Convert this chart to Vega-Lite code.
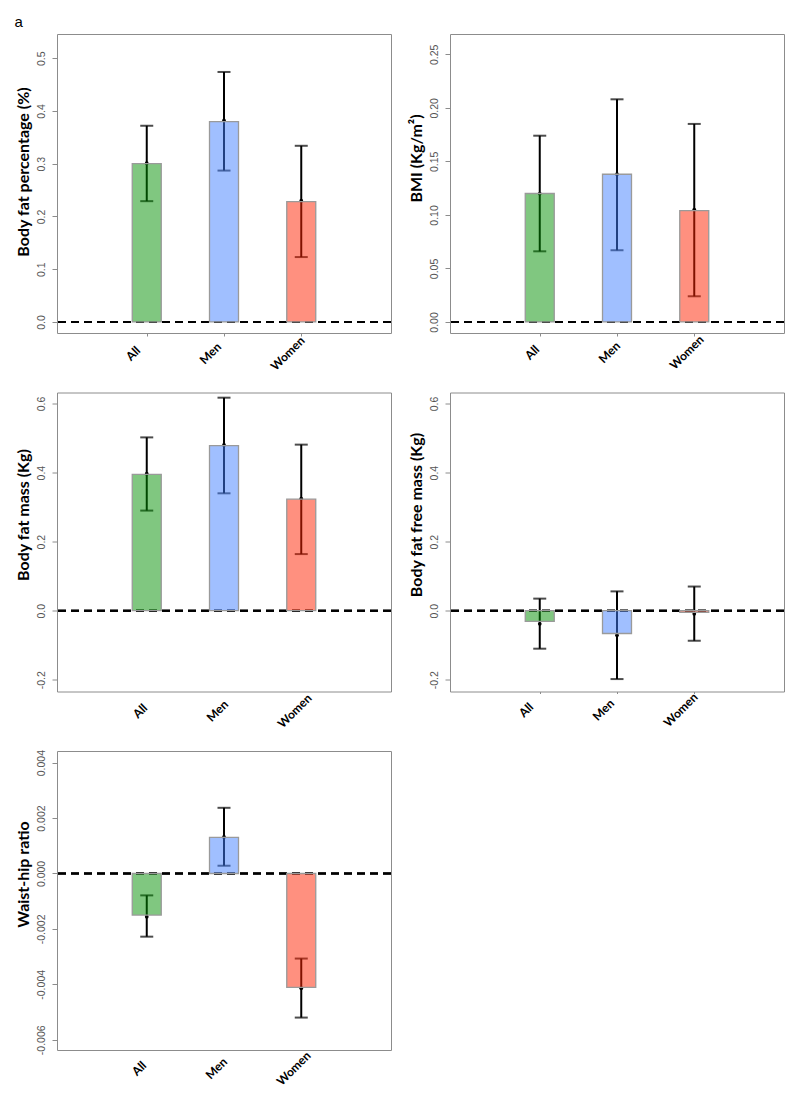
{
  "$schema": "https://vega.github.io/schema/vega-lite/v6.json",
  "padding": {"left": 14, "top": 14, "right": 10, "bottom": 5},
  "title": {"text": "a", "anchor": "start", "frame": "bounds", "font": "Liberation Sans", "fontSize": 15, "fontWeight": "normal", "color": "black", "offset": 4},
  "data": {"values": [
    {"measure": "bfp", "group": "All", "bar": 0.300, "point": 0.301, "lo": 0.229, "hi": 0.372},
    {"measure": "bfp", "group": "Men", "bar": 0.380, "point": 0.382, "lo": 0.287, "hi": 0.474},
    {"measure": "bfp", "group": "Women", "bar": 0.228, "point": 0.230, "lo": 0.123, "hi": 0.334},
    {"measure": "bmi", "group": "All", "bar": 0.120, "point": 0.120, "lo": 0.066, "hi": 0.174},
    {"measure": "bmi", "group": "Men", "bar": 0.138, "point": 0.138, "lo": 0.067, "hi": 0.208},
    {"measure": "bmi", "group": "Women", "bar": 0.104, "point": 0.105, "lo": 0.024, "hi": 0.185},
    {"measure": "bfm", "group": "All", "bar": 0.395, "point": 0.397, "lo": 0.290, "hi": 0.502},
    {"measure": "bfm", "group": "Men", "bar": 0.478, "point": 0.480, "lo": 0.340, "hi": 0.617},
    {"measure": "bfm", "group": "Women", "bar": 0.323, "point": 0.325, "lo": 0.164, "hi": 0.481},
    {"measure": "ffm", "group": "All", "bar": -0.031, "point": -0.038, "lo": -0.110, "hi": 0.035},
    {"measure": "ffm", "group": "Men", "bar": -0.066, "point": -0.071, "lo": -0.198, "hi": 0.056},
    {"measure": "ffm", "group": "Women", "bar": -0.005, "point": -0.009, "lo": -0.087, "hi": 0.070},
    {"measure": "whr", "group": "All", "bar": -0.00150, "point": -0.00156, "lo": -0.00228, "hi": -0.00079},
    {"measure": "whr", "group": "Men", "bar": 0.00130, "point": 0.00132, "lo": 0.00028, "hi": 0.00237},
    {"measure": "whr", "group": "Women", "bar": -0.00411, "point": -0.00414, "lo": -0.00520, "hi": -0.00307}
  ]},
  "columns": 2,
  "spacing": {"row": 59.5, "column": 59},
  "bounds": "flush",
  "concat": [
    {
      "width": 334, "height": 299,
      "transform": [{"filter": "datum.measure === 'bfp'"}],
      "layer": [
        {"mark": {"type": "rule", "strokeDash": [8, 5], "strokeWidth": 2, "color": "black"},
         "encoding": {"y": {"datum": 0, "type": "quantitative", "scale": {"domain": [-0.021, 0.546], "nice": false, "zero": false},
           "axis": {"title": "Body fat percentage (%)", "values": [0, 0.1, 0.2, 0.3, 0.4, 0.5], "format": ".1f", "titleY": 137.5}}}},
        {"mark": {"type": "rule", "strokeWidth": 2, "color": "black"},
         "encoding": {"x": {"field": "group", "type": "nominal", "scale": {"type": "point", "domain": ["All", "Men", "Women"], "padding": 1, "range": [12.5, 321.5]}, "axis": {"title": null, "labelOffset": -14, "labelPadding": 17}},
           "y": {"field": "lo", "type": "quantitative", "scale": {"domain": [-0.021, 0.546], "nice": false, "zero": false}}, "y2": {"field": "hi"}}},
        {"mark": {"type": "tick", "size": 13, "thickness": 2, "color": "black", "orient": "horizontal"},
         "encoding": {"x": {"field": "group", "type": "nominal", "scale": {"type": "point", "domain": ["All", "Men", "Women"], "padding": 1, "range": [12.5, 321.5]}},
           "y": {"field": "lo", "type": "quantitative", "scale": {"domain": [-0.021, 0.546], "nice": false, "zero": false}}}},
        {"mark": {"type": "tick", "size": 13, "thickness": 2, "color": "black", "orient": "horizontal"},
         "encoding": {"x": {"field": "group", "type": "nominal", "scale": {"type": "point", "domain": ["All", "Men", "Women"], "padding": 1, "range": [12.5, 321.5]}},
           "y": {"field": "hi", "type": "quantitative", "scale": {"domain": [-0.021, 0.546], "nice": false, "zero": false}}}},
        {"mark": {"type": "circle", "size": 14, "color": "black", "opacity": 1},
         "encoding": {"x": {"field": "group", "type": "nominal", "scale": {"type": "point", "domain": ["All", "Men", "Women"], "padding": 1, "range": [12.5, 321.5]}},
           "y": {"field": "point", "type": "quantitative", "scale": {"domain": [-0.021, 0.546], "nice": false, "zero": false}}}},
        {"mark": {"type": "bar", "width": 29, "fillOpacity": 0.5, "stroke": "#9a9a9a", "strokeWidth": 1.3},
         "encoding": {"x": {"field": "group", "type": "nominal", "scale": {"type": "point", "domain": ["All", "Men", "Women"], "padding": 1, "range": [12.5, 321.5]}},
           "y": {"field": "bar", "type": "quantitative", "scale": {"domain": [-0.021, 0.546], "nice": false, "zero": false}},
           "color": {"field": "group", "type": "nominal", "scale": {"domain": ["All", "Men", "Women"], "range": ["#018F01", "#417FFF", "#FF2100"]}, "legend": null}}}
      ]
    },
    {
      "width": 334, "height": 299,
      "transform": [{"filter": "datum.measure === 'bmi'"}],
      "layer": [
        {"mark": {"type": "rule", "strokeDash": [8, 5], "strokeWidth": 2, "color": "black"},
         "encoding": {"y": {"datum": 0, "type": "quantitative", "scale": {"domain": [-0.0103, 0.269], "nice": false, "zero": false},
           "axis": {"title": "BMI (Kg/m²)", "values": [0, 0.05, 0.1, 0.15, 0.2, 0.25], "format": ".2f", "titleY": 124}}}},
        {"mark": {"type": "rule", "strokeWidth": 2, "color": "black"},
         "encoding": {"x": {"field": "group", "type": "nominal", "scale": {"type": "point", "domain": ["All", "Men", "Women"], "padding": 1, "range": [12.5, 321.5]}, "axis": {"title": null, "labelOffset": -8, "labelPadding": 16}},
           "y": {"field": "lo", "type": "quantitative", "scale": {"domain": [-0.0103, 0.269], "nice": false, "zero": false}}, "y2": {"field": "hi"}}},
        {"mark": {"type": "tick", "size": 13, "thickness": 2, "color": "black", "orient": "horizontal"},
         "encoding": {"x": {"field": "group", "type": "nominal", "scale": {"type": "point", "domain": ["All", "Men", "Women"], "padding": 1, "range": [12.5, 321.5]}},
           "y": {"field": "lo", "type": "quantitative", "scale": {"domain": [-0.0103, 0.269], "nice": false, "zero": false}}}},
        {"mark": {"type": "tick", "size": 13, "thickness": 2, "color": "black", "orient": "horizontal"},
         "encoding": {"x": {"field": "group", "type": "nominal", "scale": {"type": "point", "domain": ["All", "Men", "Women"], "padding": 1, "range": [12.5, 321.5]}},
           "y": {"field": "hi", "type": "quantitative", "scale": {"domain": [-0.0103, 0.269], "nice": false, "zero": false}}}},
        {"mark": {"type": "circle", "size": 14, "color": "black", "opacity": 1},
         "encoding": {"x": {"field": "group", "type": "nominal", "scale": {"type": "point", "domain": ["All", "Men", "Women"], "padding": 1, "range": [12.5, 321.5]}},
           "y": {"field": "point", "type": "quantitative", "scale": {"domain": [-0.0103, 0.269], "nice": false, "zero": false}}}},
        {"mark": {"type": "bar", "width": 29, "fillOpacity": 0.5, "stroke": "#9a9a9a", "strokeWidth": 1.3},
         "encoding": {"x": {"field": "group", "type": "nominal", "scale": {"type": "point", "domain": ["All", "Men", "Women"], "padding": 1, "range": [12.5, 321.5]}},
           "y": {"field": "bar", "type": "quantitative", "scale": {"domain": [-0.0103, 0.269], "nice": false, "zero": false}},
           "color": {"field": "group", "type": "nominal", "scale": {"domain": ["All", "Men", "Women"], "range": ["#018F01", "#417FFF", "#FF2100"]}, "legend": null}}}
      ]
    },
    {
      "width": 334, "height": 299,
      "transform": [{"filter": "datum.measure === 'bfm'"}],
      "layer": [
        {"mark": {"type": "rule", "strokeDash": [8, 5], "strokeWidth": 2, "color": "black"},
         "encoding": {"y": {"datum": 0, "type": "quantitative", "scale": {"domain": [-0.234, 0.632], "nice": false, "zero": false},
           "axis": {"title": "Body fat mass (Kg)", "values": [-0.2, 0, 0.2, 0.4, 0.6], "format": ".1f", "titleY": 122}}}},
        {"mark": {"type": "rule", "strokeWidth": 2, "color": "black"},
         "encoding": {"x": {"field": "group", "type": "nominal", "scale": {"type": "point", "domain": ["All", "Men", "Women"], "padding": 1, "range": [12.5, 321.5]}, "axis": {"title": null, "ticks": false, "labelOffset": -7, "labelPadding": 19}},
           "y": {"field": "lo", "type": "quantitative", "scale": {"domain": [-0.234, 0.632], "nice": false, "zero": false}}, "y2": {"field": "hi"}}},
        {"mark": {"type": "tick", "size": 13, "thickness": 2, "color": "black", "orient": "horizontal"},
         "encoding": {"x": {"field": "group", "type": "nominal", "scale": {"type": "point", "domain": ["All", "Men", "Women"], "padding": 1, "range": [12.5, 321.5]}},
           "y": {"field": "lo", "type": "quantitative", "scale": {"domain": [-0.234, 0.632], "nice": false, "zero": false}}}},
        {"mark": {"type": "tick", "size": 13, "thickness": 2, "color": "black", "orient": "horizontal"},
         "encoding": {"x": {"field": "group", "type": "nominal", "scale": {"type": "point", "domain": ["All", "Men", "Women"], "padding": 1, "range": [12.5, 321.5]}},
           "y": {"field": "hi", "type": "quantitative", "scale": {"domain": [-0.234, 0.632], "nice": false, "zero": false}}}},
        {"mark": {"type": "circle", "size": 14, "color": "black", "opacity": 1},
         "encoding": {"x": {"field": "group", "type": "nominal", "scale": {"type": "point", "domain": ["All", "Men", "Women"], "padding": 1, "range": [12.5, 321.5]}},
           "y": {"field": "point", "type": "quantitative", "scale": {"domain": [-0.234, 0.632], "nice": false, "zero": false}}}},
        {"mark": {"type": "bar", "width": 29, "fillOpacity": 0.5, "stroke": "#9a9a9a", "strokeWidth": 1.3},
         "encoding": {"x": {"field": "group", "type": "nominal", "scale": {"type": "point", "domain": ["All", "Men", "Women"], "padding": 1, "range": [12.5, 321.5]}},
           "y": {"field": "bar", "type": "quantitative", "scale": {"domain": [-0.234, 0.632], "nice": false, "zero": false}},
           "color": {"field": "group", "type": "nominal", "scale": {"domain": ["All", "Men", "Women"], "range": ["#018F01", "#417FFF", "#FF2100"]}, "legend": null}}}
      ]
    },
    {
      "width": 334, "height": 299,
      "transform": [{"filter": "datum.measure === 'ffm'"}],
      "layer": [
        {"mark": {"type": "rule", "strokeDash": [8, 5], "strokeWidth": 2, "color": "black"},
         "encoding": {"y": {"datum": 0, "type": "quantitative", "scale": {"domain": [-0.234, 0.632], "nice": false, "zero": false},
           "axis": {"title": "Body fat free mass (Kg)", "values": [-0.2, 0, 0.2, 0.4, 0.6], "format": ".1f", "titleY": 122}}}},
        {"mark": {"type": "rule", "strokeWidth": 2, "color": "black"},
         "encoding": {"x": {"field": "group", "type": "nominal", "scale": {"type": "point", "domain": ["All", "Men", "Women"], "padding": 1, "range": [12.5, 321.5]}, "axis": {"title": null, "tickSize": 2, "labelOffset": -14, "labelPadding": 16}},
           "y": {"field": "lo", "type": "quantitative", "scale": {"domain": [-0.234, 0.632], "nice": false, "zero": false}}, "y2": {"field": "hi"}}},
        {"mark": {"type": "tick", "size": 13, "thickness": 2, "color": "black", "orient": "horizontal"},
         "encoding": {"x": {"field": "group", "type": "nominal", "scale": {"type": "point", "domain": ["All", "Men", "Women"], "padding": 1, "range": [12.5, 321.5]}},
           "y": {"field": "lo", "type": "quantitative", "scale": {"domain": [-0.234, 0.632], "nice": false, "zero": false}}}},
        {"mark": {"type": "tick", "size": 13, "thickness": 2, "color": "black", "orient": "horizontal"},
         "encoding": {"x": {"field": "group", "type": "nominal", "scale": {"type": "point", "domain": ["All", "Men", "Women"], "padding": 1, "range": [12.5, 321.5]}},
           "y": {"field": "hi", "type": "quantitative", "scale": {"domain": [-0.234, 0.632], "nice": false, "zero": false}}}},
        {"mark": {"type": "circle", "size": 14, "color": "black", "opacity": 1},
         "encoding": {"x": {"field": "group", "type": "nominal", "scale": {"type": "point", "domain": ["All", "Men", "Women"], "padding": 1, "range": [12.5, 321.5]}},
           "y": {"field": "point", "type": "quantitative", "scale": {"domain": [-0.234, 0.632], "nice": false, "zero": false}}}},
        {"mark": {"type": "bar", "width": 29, "fillOpacity": 0.5, "stroke": "#9a9a9a", "strokeWidth": 1.3},
         "encoding": {"x": {"field": "group", "type": "nominal", "scale": {"type": "point", "domain": ["All", "Men", "Women"], "padding": 1, "range": [12.5, 321.5]}},
           "y": {"field": "bar", "type": "quantitative", "scale": {"domain": [-0.234, 0.632], "nice": false, "zero": false}},
           "color": {"field": "group", "type": "nominal", "scale": {"domain": ["All", "Men", "Women"], "range": ["#018F01", "#417FFF", "#FF2100"]}, "legend": null}}}
      ]
    },
    {
      "width": 334, "height": 299,
      "transform": [{"filter": "datum.measure === 'whr'"}],
      "layer": [
        {"mark": {"type": "rule", "strokeDash": [8, 5], "strokeWidth": 2, "color": "black"},
         "encoding": {"y": {"datum": 0, "type": "quantitative", "scale": {"domain": [-0.00637, 0.00442], "nice": false, "zero": false},
           "axis": {"title": "Waist-hip ratio", "values": [-0.006, -0.004, -0.002, 0, 0.002, 0.004], "format": ".3f", "titleY": 123}}}},
        {"mark": {"type": "rule", "strokeWidth": 2, "color": "black"},
         "encoding": {"x": {"field": "group", "type": "nominal", "scale": {"type": "point", "domain": ["All", "Men", "Women"], "padding": 1, "range": [12.5, 321.5]}, "axis": {"title": null, "ticks": false, "labelOffset": -8, "labelPadding": 18}},
           "y": {"field": "lo", "type": "quantitative", "scale": {"domain": [-0.00637, 0.00442], "nice": false, "zero": false}}, "y2": {"field": "hi"}}},
        {"mark": {"type": "tick", "size": 13, "thickness": 2, "color": "black", "orient": "horizontal"},
         "encoding": {"x": {"field": "group", "type": "nominal", "scale": {"type": "point", "domain": ["All", "Men", "Women"], "padding": 1, "range": [12.5, 321.5]}},
           "y": {"field": "lo", "type": "quantitative", "scale": {"domain": [-0.00637, 0.00442], "nice": false, "zero": false}}}},
        {"mark": {"type": "tick", "size": 13, "thickness": 2, "color": "black", "orient": "horizontal"},
         "encoding": {"x": {"field": "group", "type": "nominal", "scale": {"type": "point", "domain": ["All", "Men", "Women"], "padding": 1, "range": [12.5, 321.5]}},
           "y": {"field": "hi", "type": "quantitative", "scale": {"domain": [-0.00637, 0.00442], "nice": false, "zero": false}}}},
        {"mark": {"type": "circle", "size": 14, "color": "black", "opacity": 1},
         "encoding": {"x": {"field": "group", "type": "nominal", "scale": {"type": "point", "domain": ["All", "Men", "Women"], "padding": 1, "range": [12.5, 321.5]}},
           "y": {"field": "point", "type": "quantitative", "scale": {"domain": [-0.00637, 0.00442], "nice": false, "zero": false}}}},
        {"mark": {"type": "bar", "width": 29, "fillOpacity": 0.5, "stroke": "#9a9a9a", "strokeWidth": 1.3},
         "encoding": {"x": {"field": "group", "type": "nominal", "scale": {"type": "point", "domain": ["All", "Men", "Women"], "padding": 1, "range": [12.5, 321.5]}},
           "y": {"field": "bar", "type": "quantitative", "scale": {"domain": [-0.00637, 0.00442], "nice": false, "zero": false}},
           "color": {"field": "group", "type": "nominal", "scale": {"domain": ["All", "Men", "Women"], "range": ["#018F01", "#417FFF", "#FF2100"]}, "legend": null}}}
      ]
    }
  ],
  "config": {
    "view": {"stroke": "#8c8c8c", "strokeWidth": 1},
    "axis": {"grid": false, "domain": false},
    "axisY": {"tickSize": 5, "tickColor": "#8c8c8c", "labelAngle": -90, "labelAlign": "center", "labelBaseline": "bottom",
      "labelFont": "Liberation Sans", "labelFontSize": 10.5, "labelColor": "#555555", "labelPadding": 6,
      "labelExpr": "replace(datum.label, '\u2212', '-')",
      "titleFont": "Lato", "titleFontSize": 16, "titleFontWeight": "bold", "titleColor": "black",
      "titleX": -34, "titleBaseline": "middle"},
    "axisX": {"tickSize": 3, "tickColor": "#8c8c8c", "labelAngle": -45, "labelAlign": "center", "labelBaseline": "middle",
      "labelFont": "Lato", "labelFontSize": 12, "labelFontWeight": "bold", "labelColor": "black", "labelPadding": 16}
  }
}
